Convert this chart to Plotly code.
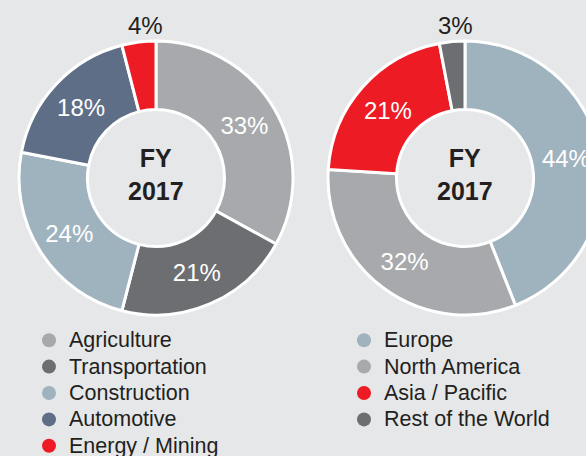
import plotly.graph_objects as go

# ---- data ----
sector_labels = ["Agriculture", "Transportation", "Construction", "Automotive", "Energy / Mining"]
sector_values = [33, 21, 24, 18, 4]
region_labels = ["Europe", "North America", "Asia / Pacific", "Rest of the World"]
region_values = [44, 32, 21, 3]
center_text = "FY<br>2017"

# ---- styles ----
BG = "#e6e7e8"
DARK = "#231f20"
sector_colors = ["#a7a9ac", "#6d6e71", "#9fb3bf", "#5f6e87", "#ed1c24"]
region_colors = ["#9fb3bf", "#a7a9ac", "#ed1c24", "#6d6e71"]
FONT = "Liberation Sans, Arial, Helvetica, sans-serif"
W, H = 620, 456      # figure is wider than the 586px page; right donut is clipped like the reference
VIEW_W = 586
Y0, Y1 = 41, 315     # vertical pixel extent of both donuts


def positions(values, small=5):
    return ["none" if v < small else "inside" for v in values]


def small_label(values, small=5):
    for v in values:
        if v < small:
            return f"{v}%"
    return ""


def donut(labels, values, colors, x0, x1):
    return go.Pie(
        labels=labels, values=values, sort=False, direction="clockwise",
        hole=0.5, marker=dict(colors=colors, line=dict(color="white", width=3)),
        texttemplate="%{value}%", textposition=positions(values),
        insidetextorientation="horizontal",
        insidetextfont=dict(color="white", size=24, family=FONT),
        domain=dict(x=[x0 / W, x1 / W], y=[1 - Y1 / H, 1 - Y0 / H]),
        showlegend=False, hoverinfo="label+percent",
    )


fig = go.Figure()
donut_x = [(19, 293), (328, 602)]
fig.add_trace(donut(sector_labels, sector_values, sector_colors, *donut_x[0]))
fig.add_trace(donut(region_labels, region_values, region_colors, *donut_x[1]))

# centre text of each donut
for (x0, x1) in donut_x:
    fig.add_annotation(text=center_text, x=(x0 + x1) / 2 / W, y=1 - (Y0 + Y1) / 2 / H,
                       xref="paper", yref="paper", showarrow=False, yshift=4,
                       xanchor="center", yanchor="middle",
                       font=dict(size=25, color=DARK, family=FONT, weight="bold"))

# small-slice labels sitting above the ring
for txt, xc in [(small_label(sector_values), 145), (small_label(region_values), 455)]:
    fig.add_annotation(text=txt, x=xc / W, y=1 - 25 / H, xref="paper", yref="paper",
                       showarrow=False, xanchor="center", yanchor="middle",
                       font=dict(size=24, color=DARK, family=FONT))


# legend entries (circle markers)
def legend_name(lab):
    return f"<span style='font-size:21.5px'>{lab}</span>"


for lab, col in zip(sector_labels, sector_colors):
    fig.add_trace(go.Scatter(x=[None], y=[None], mode="markers", name=legend_name(lab),
                             marker=dict(size=14, color=col), legend="legend"))
for lab, col in zip(region_labels, region_colors):
    fig.add_trace(go.Scatter(x=[None], y=[None], mode="markers", name=legend_name(lab),
                             marker=dict(size=14, color=col), legend="legend2"))

legend_common = dict(font=dict(size=18, color=DARK, family=FONT),
                     bgcolor="rgba(0,0,0,0)", borderwidth=0,
                     xanchor="left", yanchor="top", itemclick=False, itemdoubleclick=False)

fig.update_layout(
    width=W, height=H,
    margin=dict(l=0, r=0, t=0, b=0, autoexpand=False),
    paper_bgcolor=BG, plot_bgcolor=BG,
    xaxis=dict(visible=False), yaxis=dict(visible=False),
    legend=dict(x=29 / W, y=1 - 322 / H, **legend_common),
    legend2=dict(x=344 / W, y=1 - 322 / H, **legend_common),
)

clip_js = (
    "var gd=document.getElementById('{plot_id}');"
    "var p=gd.parentElement;p.style.width='%dpx';p.style.height='%dpx';p.style.overflow='hidden';"
    "document.body.style.margin='0';document.body.style.overflow='hidden';"
    "document.documentElement.style.overflow='hidden';"
) % (VIEW_W, H)

fig.write_html("out.html", config={"displayModeBar": False}, post_script=clip_js)
